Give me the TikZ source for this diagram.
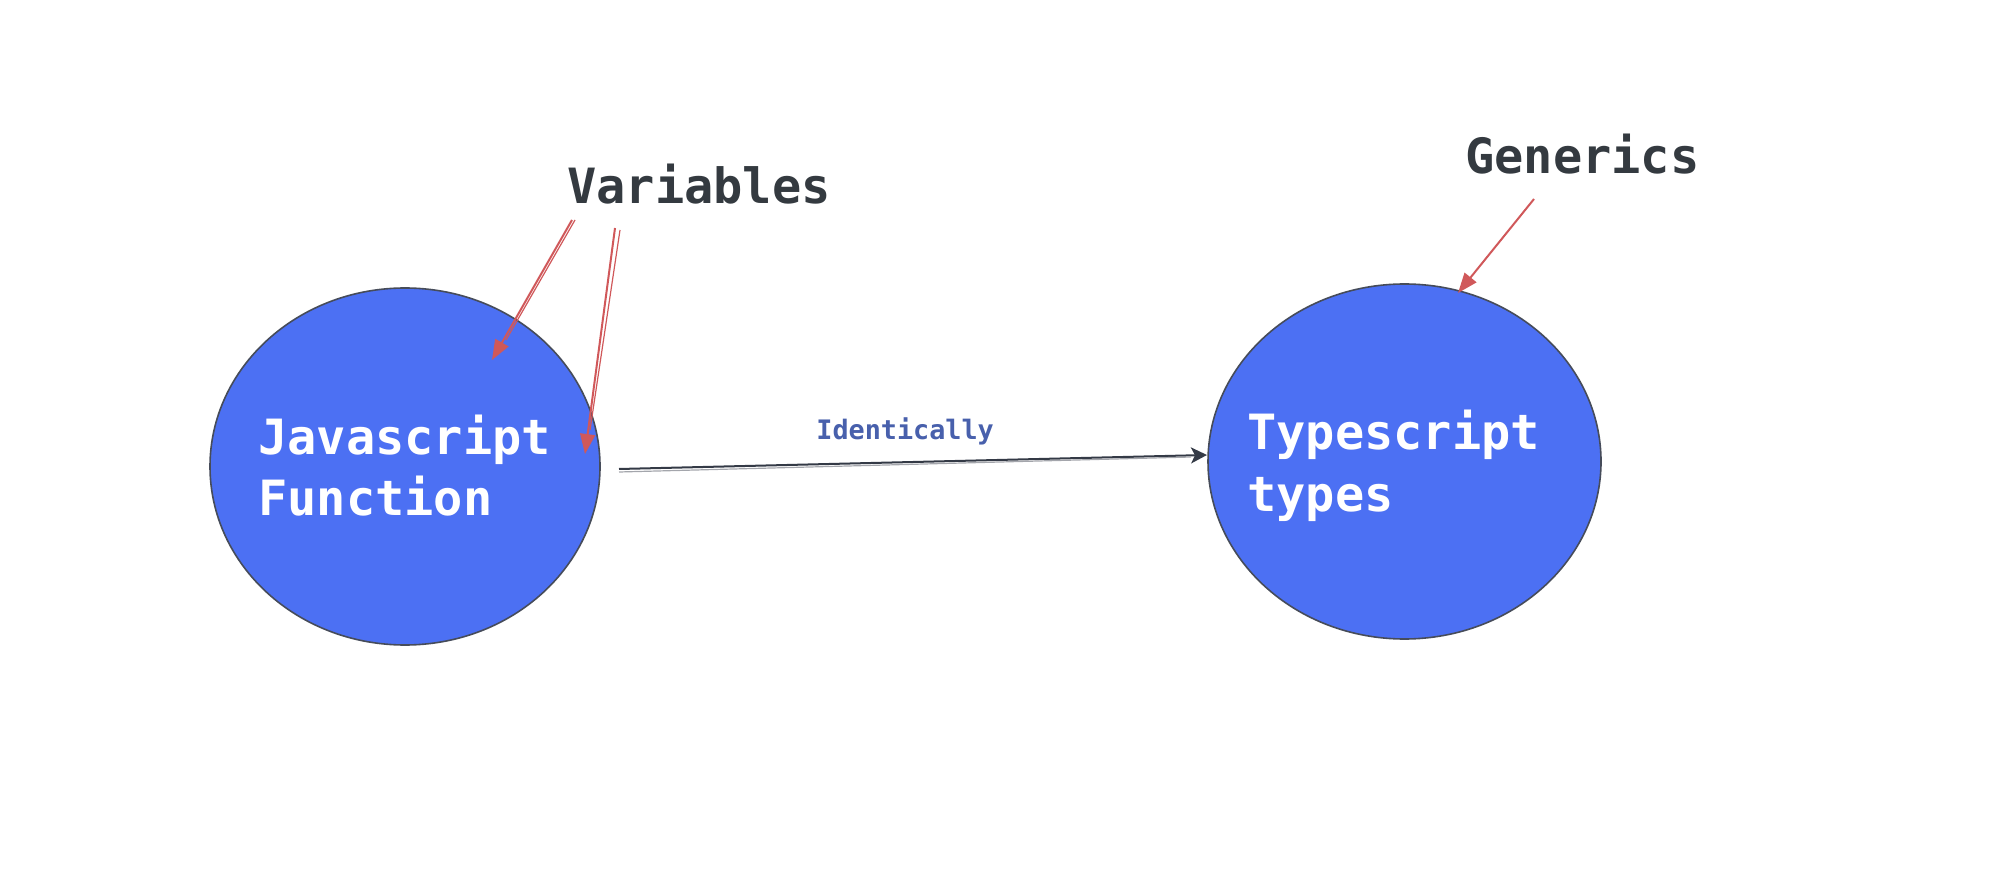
\documentclass[tikz,border=0pt]{standalone}
\usepackage{fontspec}
\newfontfamily\monofont{DejaVu Sans Mono}
\usetikzlibrary{shapes.geometric,arrows.meta}
\definecolor{blobfill}{RGB}{76,112,243}
\definecolor{blobline}{RGB}{70,76,90}
\definecolor{labeltext}{RGB}{52,58,64}
\definecolor{redarrow}{RGB}{208,88,90}
\definecolor{linkblue}{RGB}{72,96,172}
\definecolor{darkarrow}{RGB}{52,58,70}
\tikzset{
  blob/.style={ellipse, draw=blobline, line width=0.8pt, fill=blobfill, inner sep=0pt},
  bigtext/.style={inner sep=0pt, anchor=base west, font=\monofont\bfseries\fontsize{24.3}{29}\selectfont},
  whitetext/.style={bigtext, text=white},
  darktext/.style={bigtext, text=labeltext},
  smalltext/.style={inner sep=0pt, anchor=base west, text=linkblue, font=\monofont\bfseries\fontsize{13.4}{16}\selectfont},
  redlink/.style={draw=redarrow, line width=1pt, -{Triangle[length=10pt,width=7.5pt]}},
  darklink/.style={draw=darkarrow, line width=1pt, -{Stealth[length=8pt,width=8pt,inset=2pt]}}
}
\begin{document}
\begin{tikzpicture}[x=0.5pt,y=-0.5pt]
\useasboundingbox (0,0) rectangle (2000,892);
% circles
\node[blob, minimum width=195pt, minimum height=178.5pt] (js) at (405,466.5) {};
\node[blob, minimum width=196.5pt, minimum height=177.5pt] (ts) at (1404.5,461.5) {};
% labels inside circles
\node[whitetext] (jsl1) at (258,455) {Javascript};
\node[whitetext] (jsl2) at (258,516) {Function};
\node[whitetext] (tsl1) at (1247,450) {Typescript};
\node[whitetext] (tsl2) at (1247,511) {types};
% outer labels
\node[darktext] (var) at (567,204) {Variables};
\node[darktext] (gen) at (1465,174) {Generics};
% arrow end points
\coordinate (a1s) at (572,220);
\coordinate (a1e) at (492,360);
\coordinate (a2s) at (615,228);
\coordinate (a2e) at (585,454);
\coordinate (a3s) at (1534,199);
\coordinate (a3e) at (1458,293);
\coordinate (ms) at (619,469);
\coordinate (me) at (1207,455);
% red arrows
\draw[redlink] (a1s) -- (a1e);
\draw[draw=redarrow, line width=0.6pt] ([xshift=1.5pt]a1s) -- ([xshift=7pt,yshift=10pt]a1e);
\draw[redlink] (a2s) -- (a2e);
\draw[draw=redarrow, line width=0.6pt] ([xshift=2.5pt,yshift=-1pt]a2s) -- ([xshift=2.5pt,yshift=12pt]a2e);
\draw[redlink] (a3s) -- (a3e);
% main arrow
\draw[darklink] (ms) -- (me);
\draw[draw=darkarrow!45, line width=0.6pt] ([yshift=-1.5pt]ms) -- ([xshift=-8pt,yshift=-1pt]me);
\node[smalltext] (ident) at (816,440) {Identically};
\end{tikzpicture}
\end{document}
